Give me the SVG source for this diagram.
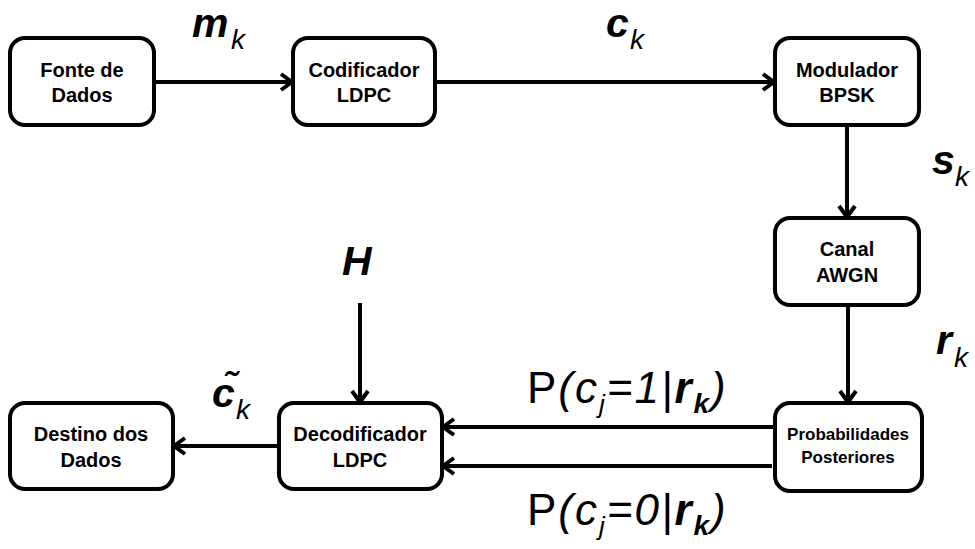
<svg xmlns="http://www.w3.org/2000/svg" width="975" height="549" viewBox="0 0 975 549">
<defs>
<style>
.box{fill:#fff;stroke:#000;stroke-width:4}
.nt{font-family:"Liberation Sans",Arial,sans-serif;font-weight:bold;font-size:20px;text-anchor:middle;fill:#000}
.nts{font-family:"Liberation Sans",Arial,sans-serif;font-weight:bold;font-size:17px;text-anchor:middle;fill:#000}
.edge{stroke:#000;stroke-width:4;fill:none;marker-end:url(#ah)}
.var{font-family:"Liberation Sans",Arial,sans-serif;font-weight:bold;font-style:italic;font-size:41px;fill:#000}
.sub{font-family:"Liberation Sans",Arial,sans-serif;font-style:italic;font-size:28px;fill:#000}
.pl{font-family:"Liberation Sans",Arial,sans-serif;font-size:44px;fill:#000;letter-spacing:2px}
</style>
<marker id="ah" markerUnits="userSpaceOnUse" markerWidth="16" markerHeight="20" refX="13" refY="9" orient="auto" overflow="visible">
<path d="M2,1 L13,9 L2,17" fill="none" stroke="#000" stroke-width="4" stroke-linejoin="miter"/>
</marker>
</defs>
<rect width="975" height="549" fill="#fff"/>

<g id="connectors">
<line class="edge" x1="154" y1="82" x2="292" y2="82"/>
<line class="edge" x1="435" y1="82" x2="774" y2="82"/>
<line class="edge" x1="847" y1="125" x2="847" y2="217"/>
<line class="edge" x1="848" y1="305" x2="848" y2="402"/>
<line class="edge" x1="360" y1="303" x2="360" y2="402"/>
<line class="edge" x1="279" y1="446" x2="174" y2="446"/>
<line class="edge" x1="775" y1="427" x2="443" y2="427"/>
<line class="edge" x1="772" y1="466" x2="443" y2="466"/>
</g>

<g id="fonte">
<rect class="box" x="10" y="38" width="144" height="87" rx="15"/>
<text class="nt" x="82" y="77">Fonte de</text>
<text class="nt" x="82" y="102">Dados</text>
</g>
<g id="codificador">
<rect class="box" x="293" y="38" width="142" height="87" rx="15"/>
<text class="nt" x="364" y="77">Codificador</text>
<text class="nt" x="364" y="102">LDPC</text>
</g>
<g id="modulador">
<rect class="box" x="775" y="38" width="144" height="87" rx="15"/>
<text class="nt" x="847" y="77">Modulador</text>
<text class="nt" x="847" y="102">BPSK</text>
</g>
<g id="canal">
<rect class="box" x="775" y="218" width="144" height="87" rx="15"/>
<text class="nt" x="847" y="256">Canal</text>
<text class="nt" x="847" y="282">AWGN</text>
</g>
<g id="probabilidades">
<rect class="box" x="775" y="403" width="147" height="88" rx="15"/>
<text class="nts" x="848" y="440">Probabilidades</text>
<text class="nts" x="848" y="463">Posteriores</text>
</g>
<g id="decodificador">
<rect class="box" x="279" y="403" width="163" height="86" rx="15"/>
<text class="nt" x="360" y="441">Decodificador</text>
<text class="nt" x="360" y="467">LDPC</text>
</g>
<g id="destino">
<rect class="box" x="10" y="403" width="163" height="86" rx="15"/>
<text class="nt" x="91" y="441">Destino dos</text>
<text class="nt" x="91" y="467">Dados</text>
</g>

<g id="labels">
<text x="192" y="37"><tspan class="var">m</tspan><tspan class="sub" x="231" y="49">k</tspan></text>
<text x="606" y="37"><tspan class="var">c</tspan><tspan class="sub" x="630" y="49">k</tspan></text>
<text x="932" y="174"><tspan class="var">s</tspan><tspan class="sub" x="955" y="186">k</tspan></text>
<text x="936" y="354"><tspan class="var">r</tspan><tspan class="sub" x="954" y="367">k</tspan></text>
<text class="var" x="342" y="275" font-size="44">H</text>
<text x="212" y="407"><tspan class="var">c̃</tspan><tspan class="sub" x="236" y="419">k</tspan></text>
<text class="pl" x="527" y="403">P<tspan font-style="italic">(c</tspan><tspan font-style="italic" font-size="26" dy="10">j</tspan><tspan font-style="italic" dy="-10">=1|</tspan><tspan font-style="italic" font-weight="bold">r</tspan><tspan font-style="italic" font-weight="bold" font-size="28" dy="10">k</tspan><tspan font-style="italic" dy="-10">)</tspan></text>
<text class="pl" x="527" y="525">P<tspan font-style="italic">(c</tspan><tspan font-style="italic" font-size="26" dy="10">j</tspan><tspan font-style="italic" dy="-10">=0|</tspan><tspan font-style="italic" font-weight="bold">r</tspan><tspan font-style="italic" font-weight="bold" font-size="28" dy="10">k</tspan><tspan font-style="italic" dy="-10">)</tspan></text>
</g>
</svg>
